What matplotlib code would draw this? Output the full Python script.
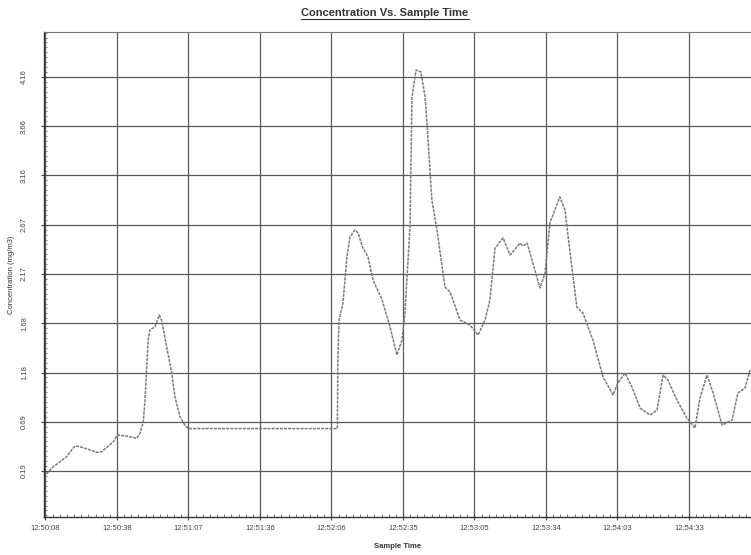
import numpy as np
import matplotlib
matplotlib.use('Agg')
import matplotlib.pyplot as plt
from matplotlib.lines import Line2D
from matplotlib.ticker import AutoMinorLocator

plt.rcParams['font.family'] = ['Liberation Sans', 'DejaVu Sans']

# seconds after 12:50:08
sample_time = [0.4, 1.2, 3.2, 6.0, 8.7, 10.8, 12.2, 14.2, 17.6, 21.1, 23.1, 25.9, 27.9,
               29.6, 33.4, 37.6, 38.9, 40.3, 41.0, 41.7, 42.3, 43.0, 45.1, 46.9, 47.8,
               49.9, 52.0, 53.3, 55.4, 57.4, 58.8, 120.2, 120.4, 120.9, 122.5, 124.1,
               125.4, 127.4, 128.7, 130.7, 132.8, 134.9, 138.6, 141.9, 144.7, 146.8,
               148.0, 150.1, 150.9, 152.6, 154.6, 156.3, 157.1, 159.1, 161.2, 164.5,
               166.6, 170.7, 174.8, 178.1, 181.0, 183.0, 185.1, 188.4, 191.3, 195.4,
               196.6, 198.3, 199.5, 203.6, 205.7, 207.7, 211.8, 213.9, 216.0, 218.8,
               221.3, 225.4, 229.6, 233.7, 235.7, 238.6, 241.5, 244.8, 248.9, 251.8,
               254.3, 256.3, 260.0, 264.1, 267.4, 269.5, 272.4, 274.9, 278.6, 282.7,
               285.1, 288.0, 290.1]
concentration = [0.160, 0.183, 0.233, 0.284, 0.334, 0.402, 0.442, 0.435, 0.409, 0.378,
                 0.384, 0.442, 0.485, 0.553, 0.543, 0.519, 0.570, 0.687, 0.905, 1.241,
                 1.510, 1.611, 1.644, 1.762, 1.711, 1.442, 1.177, 0.939, 0.737, 0.653,
                 0.618, 0.618, 1.308, 1.711, 1.883, 2.346, 2.548, 2.618, 2.588, 2.437,
                 2.346, 2.114, 1.913, 1.641, 1.359, 1.510, 1.782, 2.649, 3.958, 4.230,
                 4.210, 3.958, 3.696, 2.920, 2.618, 2.044, 1.994, 1.711, 1.661, 1.560,
                 1.711, 1.913, 2.437, 2.538, 2.366, 2.487, 2.457, 2.487, 2.387, 2.034,
                 2.185, 2.689, 2.951, 2.820, 2.387, 1.842, 1.782, 1.510, 1.137, 0.956,
                 1.077, 1.177, 1.036, 0.825, 0.754, 0.805, 1.157, 1.107, 0.905, 0.724,
                 0.623, 0.926, 1.157, 0.976, 0.653, 0.704, 0.976, 1.026, 1.208]

x_tick_labels = ['12:50:08', '12:50:38', '12:51:07', '12:51:36', '12:52:06',
                 '12:52:35', '12:53:05', '12:53:34', '12:54:03', '12:54:33']
y_tick_labels = ['0.19', '0.69', '1.18', '1.68', '2.17', '2.67', '3.16', '3.66', '4.16']

x_step = 29.44
y_step = 0.49625

fig = plt.figure(figsize=(7.51, 5.55), dpi=100)
ax = fig.add_axes([44 / 751, 38 / 555, 707 / 751, 485 / 555])

ax.plot(sample_time, concentration, color='#7a7a7a', lw=1.1, ls=(0, (2, 0.7)))

x_ticks = np.arange(len(x_tick_labels)) * x_step
y_ticks = 0.19 + np.arange(len(y_tick_labels)) * y_step
ax.set_xticks(x_ticks)
ax.set_xticklabels(x_tick_labels, fontsize=5.5, color='#444444')
ax.set_yticks(y_ticks)
ax.set_yticklabels(y_tick_labels, fontsize=5.5, color='#444444', rotation=90, va='center')
ax.xaxis.set_minor_locator(AutoMinorLocator(10))
ax.yaxis.set_minor_locator(AutoMinorLocator(10))
ax.tick_params(which='major', direction='inout', length=5, width=0.8, color='#444444')
ax.tick_params(axis='x', which='major', pad=3)
ax.tick_params(axis='y', which='major', pad=9)
ax.tick_params(which='minor', direction='in', length=2.5, width=0.6, color='#666666')

ax.set_xlim(-0.6, 290.5)
ax.set_ylim(-0.273, 4.613)

ax.grid(True, which='major', color='#5a5a5a', lw=0.9)
ax.spines['right'].set_visible(False)
ax.spines['top'].set_color('#777777')
ax.spines['top'].set_linestyle((0, (1, 1)))
for s in ['left', 'bottom']:
    ax.spines[s].set_color('#333333')
    ax.spines[s].set_linewidth(1.0)

ax.set_xlabel('Sample Time', fontsize=5.5, fontweight='bold', color='#333333', labelpad=8)
ax.set_ylabel('Concentration (mg/m3)', fontsize=5.5, color='#333333', labelpad=4)

# title with underline
title = fig.text(385 / 751, 1 - 13 / 555, 'Concentration Vs. Sample Time', ha='center',
                 va='center', fontsize=8, fontweight='bold', color='#333333')
fig.canvas.draw()
bb = title.get_window_extent().transformed(fig.transFigure.inverted())
fig.add_artist(Line2D([bb.x0, bb.x1], [bb.y0 - 0.002, bb.y0 - 0.002],
                      transform=fig.transFigure, color='#333333', lw=0.8))

fig.savefig('out.png', dpi=100)
